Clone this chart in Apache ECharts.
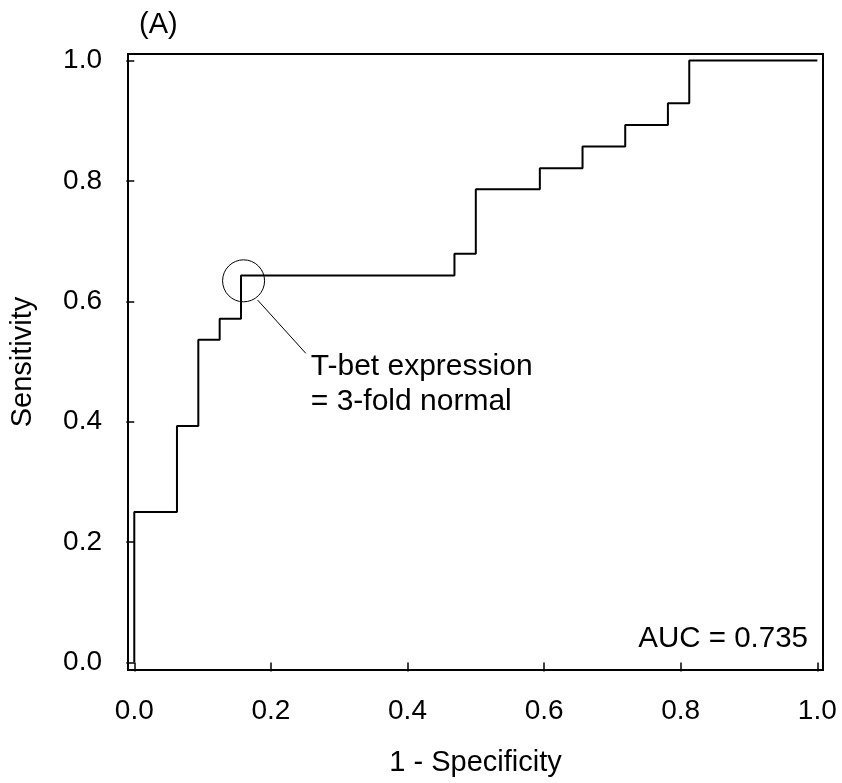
<!DOCTYPE html>
<html>
<head>
<meta charset="utf-8">
<script src="https://cdn.jsdelivr.net/npm/echarts@6/dist/echarts.min.js"></script>
<style>
html,body{margin:0;padding:0;background:#fff;}
#chart{width:842px;height:783px;}
</style>
</head>
<body>
<div id="chart"></div>
<script>
// ROC curve vertices (1 - specificity, sensitivity)
var fpr = [0, 0, 0.0625, 0.09375, 0.125, 0.15625, 0.46875, 0.5, 0.59375, 0.65625, 0.71875, 0.78125, 0.8125, 1.0];
var tpr = [0, 0.25, 0.393, 0.536, 0.571, 0.643, 0.679, 0.786, 0.821, 0.857, 0.893, 0.929, 1.0, 1.0];
var tickValues = [0, 0.2, 0.4, 0.6, 0.8, 1.0];
var cutoffPoint = [0.160, 0.634];
var leaderLine = [[0.1806, 0.602], [0.2511, 0.5136]];
var cutoffLabel = 'T-bet expression\n= 3-fold normal';
var aucLabel = 'AUC = 0.735';
var panelLabel = '(A)';
var xTitle = '1 - Specificity';
var yTitle = 'Sensitivity';

var FONT = '"Liberation Sans", Arial, sans-serif';
var rocData = fpr.map(function (x, i) { return [x, tpr[i]]; });

var chart = echarts.init(document.getElementById('chart'), null, {renderer: 'canvas'});
chart.setOption({
  animation: false,
  backgroundColor: '#fff',
  textStyle: {fontFamily: FONT, color: '#000'},
  title: {
    text: panelLabel, left: 134, top: 5,
    textStyle: {fontFamily: FONT, fontSize: 29, fontWeight: 'normal', color: '#000'}
  },
  grid: {
    left: 126, top: 54, width: 697, height: 616,
    show: true, borderColor: '#000', borderWidth: 2, backgroundColor: 'transparent'
  },
  xAxis: {
    type: 'value', min: -0.0092, max: 1.0083,
    name: xTitle, nameLocation: 'middle', nameGap: 78,
    nameTextStyle: {fontFamily: FONT, fontSize: 29, color: '#000'},
    axisLine: {show: false},
    splitLine: {show: false},
    axisTick: {show: true, customValues: tickValues, length: 9, lineStyle: {color: '#000', width: 1.5}},
    axisLabel: {customValues: tickValues, margin: 27, fontFamily: FONT, fontSize: 28, color: '#000',
      formatter: function (v) { return v.toFixed(1); }}
  },
  yAxis: {
    type: 'value', min: -0.0125, max: 1.0108,
    name: yTitle, nameLocation: 'middle', nameGap: 91,
    nameTextStyle: {fontFamily: FONT, fontSize: 29, color: '#000'},
    axisLine: {show: false},
    splitLine: {show: false},
    axisTick: {show: true, customValues: tickValues, length: 8, lineStyle: {color: '#000', width: 1.5}},
    axisLabel: {customValues: tickValues, margin: 26, fontFamily: FONT, fontSize: 28, color: '#000',
      formatter: function (v) { return v.toFixed(1); }}
  },
  graphic: [{
    type: 'text', right: 34, top: 624,
    style: {text: aucLabel, font: '29.5px ' + FONT, fill: '#000'}
  }],
  series: [{
    type: 'line', data: rocData, step: 'end', showSymbol: false, symbol: 'none',
    lineStyle: {color: '#000', width: 2}, z: 3
  }, {
    type: 'scatter', data: [cutoffPoint], symbol: 'circle', symbolSize: 42,
    itemStyle: {color: 'rgba(0,0,0,0)', borderColor: '#000', borderWidth: 1, opacity: 1}, z: 4
  }, {
    type: 'line', data: leaderLine, showSymbol: false, symbol: 'none',
    lineStyle: {color: '#000', width: 1}, z: 4
  }, {
    type: 'scatter', data: [leaderLine[1]], symbolSize: 0,
    itemStyle: {opacity: 1},
    label: {show: true, formatter: cutoffLabel, position: [5, -4], align: 'left', verticalAlign: 'top',
      fontFamily: FONT, fontSize: 30, lineHeight: 35, color: '#000', opacity: 1},
    z: 4
  }]
});
</script>
</body>
</html>
